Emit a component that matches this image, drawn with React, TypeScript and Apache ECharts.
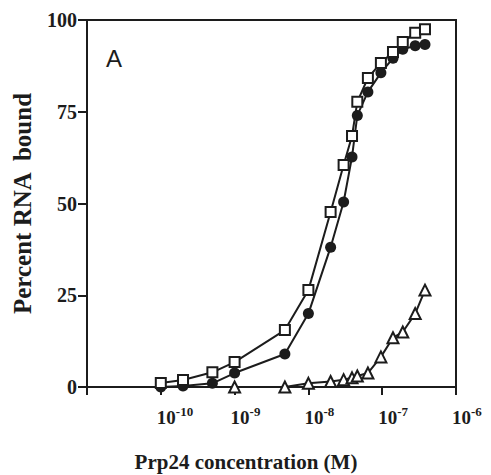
import React, { useEffect, useRef } from "react";
import * as echarts from "echarts";

const concentrations = [1e-10, 2e-10, 5e-10, 1e-9, 4.8e-9, 1e-8, 2e-8, 3e-8, 3.9e-8, 4.6e-8, 6.4e-8, 9.6e-8, 1.4e-7, 1.9e-7, 2.8e-7, 3.8e-7];
const squareValues = [1.1, 1.9, 4, 6.8, 15.5, 26.4, 47.7, 60.5, 68.4, 77.7, 84.2, 88.3, 91.3, 94, 96.5, 97.5];
const circleValues = [0, 0.3, 1, 3.8, 9, 20, 38.1, 50.4, 62.7, 74, 80.4, 85.6, 89.6, 92, 93, 93.3];
const triangleConcentrations = [1e-9, 4.8e-9, 1e-8, 2e-8, 3e-8, 3.9e-8, 4.6e-8, 6.4e-8, 9.6e-8, 1.4e-7, 1.9e-7, 2.8e-7, 3.8e-7];
const triangleValues = [0, 0, 1, 1.5, 2, 2.5, 3, 3.8, 8.2, 13.4, 15, 20, 26.4];
const xTickExponents = [-10, -9, -8, -7, -6];

const INK = "#1c1c1c";
const SERIF = "Liberation Serif";

const expOf = (v: number) => Math.round(Math.log10(v));

export default function App() {
  const ref = useRef<HTMLDivElement>(null);
  useEffect(() => {
    if (!ref.current) return;
    const chart = echarts.init(ref.current, undefined, { renderer: "svg" });
    const pair = (xs: number[], ys: number[]) => xs.map((x, i) => [x, ys[i]]);
    const baseX = {
      type: "log",
      logBase: 10,
      min: 1e-11,
      max: 1e-6,
      splitLine: { show: false },
    };
    chart.setOption({
      animation: false,
      backgroundColor: "#ffffff",
      title: {
        text: "A",
        left: 106,
        top: 46,
        padding: 0,
        textStyle: { fontFamily: "Liberation Sans", fontWeight: "normal", fontSize: 24, color: INK },
      },
      grid: {
        left: 87,
        right: 35,
        top: 20,
        bottom: 88,
        outerBoundsMode: "none",
        containLabel: false,
        show: true,
        borderColor: INK,
        borderWidth: 2,
        backgroundColor: "transparent",
      },
      xAxis: [
        {
          ...baseX,
          name: "Prp24 concentration (M)",
          nameLocation: "middle",
          nameGap: 64,
          nameTextStyle: { fontFamily: SERIF, fontWeight: "bold", fontSize: 21, color: INK, padding: [0, 51, 0, 0] },
          axisLine: { show: true, lineStyle: { color: INK, width: 2 } },
          axisTick: { show: true, length: 8, lineStyle: { color: INK, width: 2 } },
          axisLabel: {
            show: true,
            margin: 21,
            align: "left",
            padding: [0, 0, 0, -4],
            color: INK,
            fontFamily: SERIF,
            fontWeight: "bold",
            fontSize: 19,
            formatter: (v: number) => (xTickExponents.includes(expOf(v)) ? "10" : ""),
          },
        },
        {
          ...baseX,
          position: "bottom",
          axisLine: { show: false },
          axisTick: { show: false },
          axisLabel: {
            show: true,
            margin: 18,
            align: "left",
            padding: [0, 0, 0, 15],
            color: INK,
            fontFamily: SERIF,
            fontWeight: "bold",
            fontSize: 13,
            formatter: (v: number) => (xTickExponents.includes(expOf(v)) ? String(expOf(v)) : ""),
          },
        },
      ],
      yAxis: [{
        type: "value",
        min: 0,
        max: 100,
        interval: 25,
        name: "Percent RNA  bound",
        nameLocation: "middle",
        nameGap: 52,
        nameTextStyle: { fontFamily: SERIF, fontWeight: "bold", fontSize: 25, color: INK },
        axisLine: { show: true, lineStyle: { color: INK, width: 2 } },
        axisTick: { show: true, length: 9, lineStyle: { color: INK, width: 2 } },
        splitLine: { show: false },
        axisLabel: {
          show: true,
          margin: 10,
          fontFamily: SERIF,
          fontWeight: "bold",
          fontSize: 20,
          color: INK,
        },
      }],
      series: [
        {
          type: "line",
          data: pair(concentrations, circleValues),
          symbol: "circle",
          symbolSize: 11,
          lineStyle: { color: INK, width: 2 },
          itemStyle: { color: INK },
        },
        {
          type: "line",
          data: pair(concentrations, squareValues),
          symbol: "rect",
          symbolSize: 10,
          lineStyle: { color: INK, width: 2 },
          itemStyle: { color: "#ffffff", borderColor: INK, borderWidth: 2 },
        },
        {
          type: "line",
          data: pair(triangleConcentrations, triangleValues),
          symbol: "triangle",
          symbolSize: 11,
          lineStyle: { color: INK, width: 2 },
          itemStyle: { color: "#ffffff", borderColor: INK, borderWidth: 2 },
        },
      ],
    });
    return () => chart.dispose();
  }, []);
  return <div ref={ref} style={{ position: "fixed", left: 0, top: 0, width: 491, height: 475 }} />;
}
